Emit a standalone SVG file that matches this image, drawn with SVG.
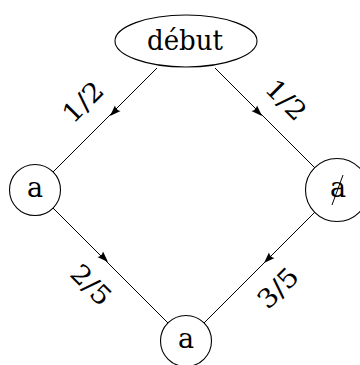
<svg xmlns="http://www.w3.org/2000/svg" xmlns:xlink="http://www.w3.org/1999/xlink" width="360" height="365" viewBox="0 0 360 365">
<style>
.shape{fill:#fff;stroke:#000;stroke-width:1.1}
.edge{fill:none;stroke:#000;stroke-width:1}
.lbl{fill:#000;text-anchor:middle;font-family:"DejaVu Serif","Liberation Serif",serif}
</style>
<defs>
<path id="ah" d="M0,0 L-11,-4 Q-8.5,0 -11,4 Z" fill="#000"/>
</defs>
<rect width="360" height="365" fill="#fff"/>
<g id="edges" font-size="26">
<line class="edge" x1="157" y1="68" x2="53" y2="172"/>
<use xlink:href="#ah" transform="translate(110,116) rotate(135)"/>
<text class="lbl" transform="translate(83,102) rotate(-45)" y="9" textLength="46" lengthAdjust="spacingAndGlyphs">1/2</text>
<line class="edge" x1="215" y1="68" x2="315" y2="168"/>
<use xlink:href="#ah" transform="translate(262,116) rotate(45)"/>
<text class="lbl" transform="translate(286,100) rotate(45)" y="9" textLength="46" lengthAdjust="spacingAndGlyphs">1/2</text>
<line class="edge" x1="53" y1="208" x2="168" y2="323"/>
<use xlink:href="#ah" transform="translate(108,262) rotate(45)"/>
<text class="lbl" transform="translate(91,285) rotate(45)" y="9" textLength="46" lengthAdjust="spacingAndGlyphs">2/5</text>
<line class="edge" x1="315" y1="212" x2="204" y2="323"/>
<use xlink:href="#ah" transform="translate(264,263) rotate(135)"/>
<text class="lbl" transform="translate(278,288) rotate(-45)" y="9" textLength="46" lengthAdjust="spacingAndGlyphs">3/5</text>
</g>
<g id="debut" font-size="27">
<ellipse class="shape" cx="186" cy="41" rx="71" ry="26"/>
<text class="lbl" x="185" y="50" textLength="76" lengthAdjust="spacingAndGlyphs">début</text>
</g>
<g id="a-left" font-size="27">
<circle class="shape" cx="35" cy="190" r="25.5"/>
<text class="lbl" x="35" y="197">a</text>
</g>
<g id="a-right" font-size="27">
<circle class="shape" cx="337" cy="190" r="31.5"/>
<text class="lbl" x="338" y="197">a</text>
<line class="edge" x1="332" y1="205" x2="343" y2="175" stroke-width="1.3"/>
</g>
<g id="a-bottom" font-size="27">
<circle class="shape" cx="186" cy="341" r="25.5"/>
<text class="lbl" x="186" y="348">a</text>
</g>
</svg>
